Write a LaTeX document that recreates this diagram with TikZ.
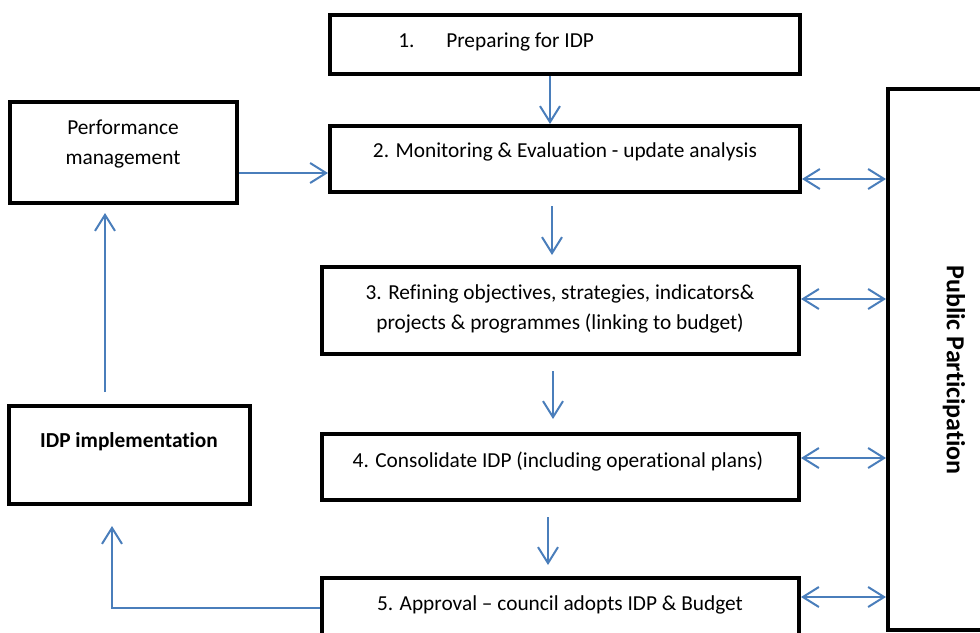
\documentclass[tikz,border=0pt]{standalone}
\usepackage{fontspec}
\setmainfont{Carlito}[Ligatures={NoCommon}]
\usetikzlibrary{arrows.meta,calc}
\definecolor{arrblue}{HTML}{4A7EBB}
\begin{document}
\begin{tikzpicture}[x=0.75pt,y=-0.75pt,
  box/.style={draw=black, line width=3pt, fill=white, inner sep=0pt},
  sz/.style 2 args={minimum width=#1*0.75pt, minimum height=#2*0.75pt},
  txt/.style={font=\fontsize{16}{22.5}\selectfont, inner sep=0pt},
  btxt/.style={font=\fontsize{16}{22.5}\selectfont\bfseries, inner sep=0pt},
  tip/.tip={Straight Barb[length=12pt,width=15pt]},
  arr/.style={draw=arrblue, line width=1.5pt, -tip},
  darr/.style={draw=arrblue, line width=1.5pt, tip-tip}]
\fill[white] (0,0) rectangle (980,632);
\useasboundingbox (0,0) rectangle (980,632);
\clip (0,0) rectangle (980,632);

% boxes
\node[box, sz={470}{59}] (b1) at (565,44.5) {};
\node[box, sz={470}{66}] (b2) at (565,159) {};
\node[box, sz={227}{101}] (perf) at (123.5,152.5) {};
\node[box, sz={477}{87}] (b3) at (560.5,310.5) {};
\node[box, sz={477}{66}] (b4) at (560.5,467) {};
\node[box, sz={477}{72}] (b5) at (560.5,614) {};
\node[box, sz={241}{98}] (impl) at (129.5,455) {};
\node[box, sz={122}{541}] (pp) at (949,359.5) {};

% texts
\node[txt, anchor=base west] (t1a) at (398,47) {1.};
\node[txt, anchor=base west] (t1b) at (446,47) {Preparing for IDP};
\node[txt, anchor=base] (t2) at (565,157) {2. Monitoring \& Evaluation - update analysis};
\node[txt, align=center] (t3) at (560,309) {3. Refining objectives, strategies, indicators\&\\projects \& programmes (linking to budget)};
\node[txt, anchor=base] (t4) at (558,467) {4. Consolidate IDP (including operational plans)};
\node[txt, anchor=base] (t5) at (560,610) {5. Approval – council adopts IDP \& Budget};
\node[txt, align=center] (tp) at (123,144) {Performance\\management};
\node[btxt, anchor=base] (ti) at (129,447) {IDP implementation};
\node[btxt, font=\fontsize{19.5}{24}\selectfont\bfseries, rotate=-90] (tpp) at (954,370) {Public Participation};

% helper coordinates
\coordinate (ya) at (0,173);
\coordinate (x12) at (550,0);
\coordinate (x23) at (552,0);
\coordinate (x34) at (553,0);
\coordinate (x45) at (548,0);
\coordinate (r1) at (0,179);
\coordinate (r2) at (0,299);
\coordinate (r3) at (0,458);
\coordinate (r4) at (0,597);
\coordinate (xup) at (105,0);
\coordinate (xret) at (112,0);
\coordinate (yret) at (0,608);

% connectors
\draw[arr] (b1.south -| x12) -- (b2.north -| x12);
\draw[arr] (perf.east |- ya) -- (b2.west |- ya);
\draw[arr, shorten <=9pt, shorten >=7.5pt] (b2.south -| x23) -- (b3.north -| x23);
\draw[arr, shorten <=11.25pt, shorten >=9.75pt] (b3.south -| x34) -- (b4.north -| x34);
\draw[arr, shorten <=11.25pt, shorten >=8.25pt] (b4.south -| x45) -- (b5.north -| x45);
\draw[darr] (b2.east |- r1) -- (pp.west |- r1);
\draw[darr] (b3.east |- r2) -- (pp.west |- r2);
\draw[darr] (b4.east |- r3) -- (pp.west |- r3);
\draw[darr] (b5.east |- r4) -- (pp.west |- r4);
\draw[arr, shorten <=9pt, shorten >=6pt] (impl.north -| xup) -- (perf.south -| xup);
\draw[arr, shorten >=15pt] (b5.west |- yret) -| (impl.south -| xret);
\end{tikzpicture}
\end{document}
